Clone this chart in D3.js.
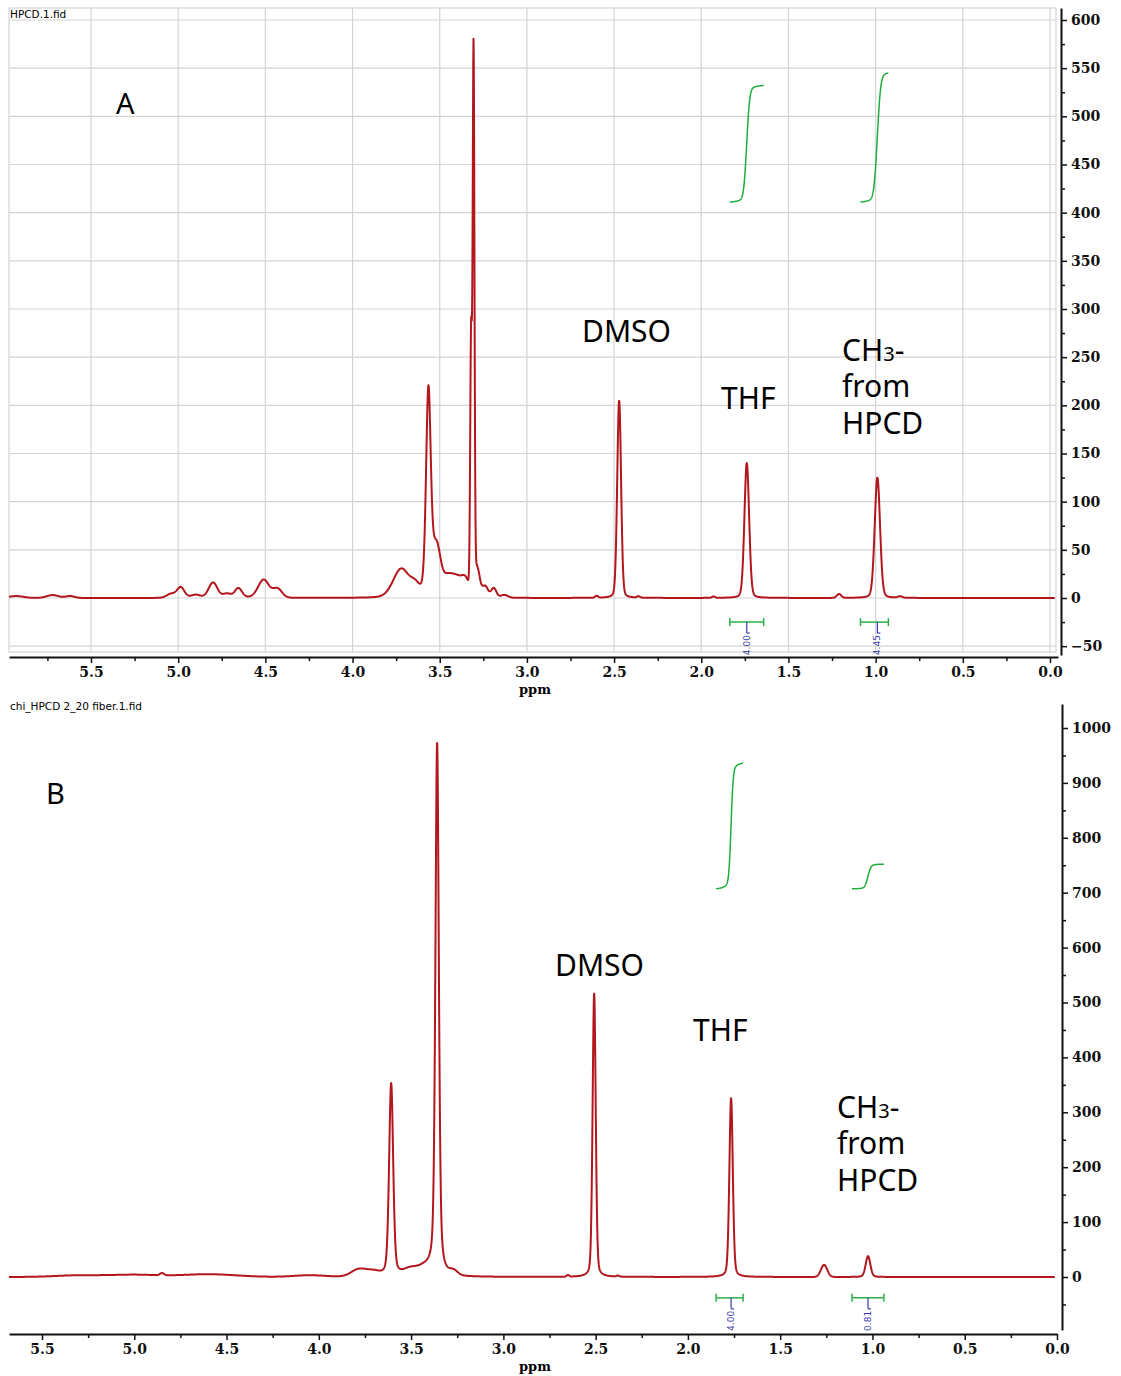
<!DOCTYPE html>
<html>
<head>
<meta charset="utf-8">
<script src="https://cdn.jsdelivr.net/npm/d3@7"></script>
<style>
  body { margin: 0; background: #fff; }
  .tick text { font-family: "DejaVu Serif", serif; font-weight: bold; font-size: 14px; fill: #111; }
</style>
</head>
<body>
<svg id="chart" width="1121" height="1376"></svg>
<script>
// Peak lists: [ppm, height, fwhm (ppm), lorentzian fraction]
const peaksA = [
  [5.93, 2, 0.10, 0], [5.72, 3, 0.08, 0], [5.62, 2, 0.06, 0],
  [5.04, 4, 0.06, 0], [4.985, 11, 0.05, 0.2], [4.90, 3, 0.06, 0],
  [4.80, 16, 0.06, 0.2], [4.72, 4, 0.05, 0], [4.655, 10, 0.05, 0.2],
  [4.51, 19, 0.075, 0.2], [4.43, 9, 0.06, 0],
  [3.72, 30, 0.11, 0.2], [3.64, 9, 0.06, 0], [3.565, 212, 0.032, 0.3],
  [3.52, 50, 0.055, 0], [3.46, 18, 0.07, 0], [3.40, 20, 0.08, 0], [3.35, 14, 0.05, 0],
  [3.32, 260, 0.012, 0], [3.306, 562, 0.012, 0.1],
  [3.285, 28, 0.035, 0], [3.24, 12, 0.04, 0], [3.19, 10, 0.035, 0], [3.13, 3, 0.05, 0],
  [2.60, 2, 0.02, 0], [2.471, 205, 0.026, 0.15], [2.36, 1.5, 0.02, 0],
  [1.93, 1.5, 0.02, 0], [1.739, 140, 0.032, 0.15], [1.21, 4, 0.03, 0],
  [0.99, 125, 0.036, 0.15], [0.86, 1.5, 0.03, 0]
];
const peaksB = [
  [5.3, 3, 0.3, 0], [5.0, 4, 0.3, 0], [4.6, 5, 0.35, 0], [4.85, 4, 0.025, 0],
  [4.05, 3, 0.2, 0], [3.78, 14, 0.10, 0], [3.70, 8, 0.08, 0],
  [3.608, 352, 0.026, 0.35], [3.50, 14, 0.10, 0], [3.42, 13, 0.08, 0],
  [3.359, 972, 0.022, 0.45], [3.27, 8, 0.05, 0],
  [2.65, 3, 0.015, 0], [2.508, 517, 0.02, 0.25], [2.38, 2, 0.015, 0],
  [1.766, 326, 0.022, 0.25], [1.262, 22, 0.04, 0], [1.024, 38, 0.03, 0.2]
];

// Integrals: [from ppm, to ppm, curve start, curve end, peak ppm, label]
const integralsA = [
  [1.836, 1.642, 411, 532, 1.739, "4.00"],
  [1.087, 0.927, 411, 545, 0.99, "4.45"]
];
const integralsB = [
  [1.847, 1.701, 707, 936, 1.766, "4.00"],
  [1.111, 0.938, 707, 752, 1.024, "0.81"]
];

const ppmMajor = [5.5, 5.0, 4.5, 4.0, 3.5, 3.0, 2.5, 2.0, 1.5, 1.0, 0.5, 0.0];
const ppmMinor = [5.75, 5.25, 4.75, 4.25, 3.75, 3.25, 2.75, 2.25, 1.75, 1.25, 0.75, 0.25];
const yMajorA = d3.range(-50, 601, 50);
const yMinorA = d3.range(-25, 600, 50);
const yMajorB = d3.range(0, 1001, 100);
const yMinorB = d3.range(-50, 1000, 100);

const svg = d3.select('#chart');

function spectrum(peaks, p) {
  let s = 0;
  for (const [c, h, w, eta] of peaks) {
    const d = (p - c) / w;
    const g = Math.exp(-4 * Math.LN2 * d * d);
    const l = 1 / (1 + 4 * d * d);
    s += h * (eta * l + (1 - eta) * g);
  }
  return s;
}

function drawPanel(cfg) {
  const x = d3.scaleLinear().domain([5.5, 0]).range(cfg.xRange);
  const y = d3.scaleLinear().domain(cfg.yDomain).range(cfg.yRange);
  const g = svg.append('g');

  // grid (panel A only)
  if (cfg.grid) {
    const grid = g.append('g').attr('stroke', '#d4d4d4').attr('stroke-width', 1.2);
    ppmMajor.forEach(p => grid.append('line')
      .attr('x1', x(p)).attr('x2', x(p)).attr('y1', cfg.plotTop).attr('y2', cfg.plotBottom));
    cfg.yMajor.forEach(v => grid.append('line')
      .attr('x1', cfg.plotLeft).attr('x2', cfg.plotRight).attr('y1', y(v)).attr('y2', y(v)));
    grid.append('rect')
      .attr('x', cfg.plotLeft).attr('y', cfg.plotTop)
      .attr('width', cfg.plotRight - cfg.plotLeft).attr('height', cfg.plotBottom - cfg.plotTop)
      .attr('fill', 'none');
  }

  // spectrum
  const pts = d3.range(cfg.plotLeft, cfg.specRight, 0.25).map(px => {
    const p = x.invert(px);
    return [p, spectrum(cfg.peaks, p)];
  });
  g.append('path')
    .datum(pts)
    .attr('fill', 'none')
    .attr('stroke', '#b3161c')
    .attr('stroke-width', 2)
    .attr('stroke-linejoin', 'round')
    .attr('d', d3.line().x(d => x(d[0])).y(d => y(d[1])));

  // integrals
  cfg.integrals.forEach(([from, to, lo, hi, center, label]) => {
    const n = 200;
    const ps = d3.range(n + 1).map(i => from + (to - from) * i / n);
    let cum = 0;
    const cumVals = ps.map(p => (cum += spectrum(cfg.peaks, p)));
    const total = cumVals[n];
    const curve = ps.map((p, i) => [p, lo + (hi - lo) * cumVals[i] / total]);
    g.append('path')
      .datum(curve)
      .attr('fill', 'none')
      .attr('stroke', '#1fae3c')
      .attr('stroke-width', 1.5)
      .attr('d', d3.line().x(d => x(d[0])).y(d => y(d[1])));

    const by = y(cfg.bracketValue);
    const br = g.append('g').attr('stroke', '#2cb04a').attr('stroke-width', 1.5);
    br.append('line').attr('x1', x(from)).attr('x2', x(to)).attr('y1', by).attr('y2', by);
    br.append('line').attr('x1', x(from)).attr('x2', x(from)).attr('y1', by - 4).attr('y2', by + 4);
    br.append('line').attr('x1', x(to)).attr('x2', x(to)).attr('y1', by - 4).attr('y2', by + 4);
    g.append('line')
      .attr('x1', x(center)).attr('x2', x(center)).attr('y1', by).attr('y2', by + 11)
      .attr('stroke', '#3a3aa8').attr('stroke-width', 1.2);
    g.append('line')
      .attr('x1', x(center)).attr('x2', x(center) + 3).attr('y1', by + 11).attr('y2', by + 11)
      .attr('stroke', '#3a3aa8').attr('stroke-width', 1.2);
    g.append('text')
      .attr('transform', `translate(${x(center) + 3},${by + 13}) rotate(-90)`)
      .attr('text-anchor', 'end')
      .attr('font-family', 'DejaVu Sans, sans-serif')
      .attr('font-size', 9)
      .attr('fill', '#3a3aa8')
      .text(label);
  });

  // x axis
  const xAxisScale = x.copy().domain([x.invert(cfg.plotLeft), x.invert(cfg.xAxisRight)])
    .range([cfg.plotLeft, cfg.xAxisRight]);
  const xAxis = g.append('g').attr('transform', `translate(0,${cfg.xAxisY})`)
    .call(d3.axisBottom(xAxisScale).tickValues(ppmMajor).tickFormat(d3.format('.1f'))
      .tickSize(6).tickSizeOuter(0).tickPadding(4));
  xAxis.select('.domain').attr('stroke', '#111').attr('stroke-width', 2);
  xAxis.selectAll('.tick line').attr('stroke', '#111').attr('stroke-width', 1.5);
  g.append('g').attr('transform', `translate(0,${cfg.xAxisY})`)
    .call(d3.axisBottom(xAxisScale).tickValues(ppmMinor.filter(p => xAxisScale(p) > cfg.plotLeft + 2))
      .tickFormat('').tickSize(4).tickSizeOuter(0))
    .call(a => a.select('.domain').remove())
    .selectAll('.tick line').attr('stroke', '#111').attr('stroke-width', 1.5);
  g.append('text')
    .attr('x', 535).attr('y', cfg.xAxisY + 37)
    .attr('text-anchor', 'middle')
    .attr('font-family', 'DejaVu Serif, serif').attr('font-weight', 'bold').attr('font-size', 13)
    .text('ppm');

  // y axis (right)
  const yAxisScale = y.copy().domain([y.invert(cfg.yAxisBottom), y.invert(cfg.yAxisTop)])
    .range([cfg.yAxisBottom, cfg.yAxisTop]);
  const yAxis = g.append('g').attr('transform', `translate(${cfg.yAxisX},0)`)
    .call(d3.axisRight(yAxisScale).tickValues(cfg.yMajor).tickFormat(d3.format('d'))
      .tickSize(6).tickSizeOuter(0).tickPadding(4));
  yAxis.select('.domain').attr('stroke', '#111').attr('stroke-width', 2);
  yAxis.selectAll('.tick line').attr('stroke', '#111').attr('stroke-width', 1.5);
  g.append('g').attr('transform', `translate(${cfg.yAxisX},0)`)
    .call(d3.axisRight(yAxisScale).tickValues(cfg.yMinor).tickFormat('').tickSize(4).tickSizeOuter(0))
    .call(a => a.select('.domain').remove())
    .selectAll('.tick line').attr('stroke', '#111').attr('stroke-width', 1.5);

  // title
  g.append('text')
    .attr('x', 10).attr('y', cfg.titleY)
    .attr('font-family', 'DejaVu Sans, sans-serif').attr('font-size', 10.5)
    .text(cfg.title);

  // annotation labels
  const big = (tx, ty, str) => g.append('text')
    .attr('x', tx).attr('y', ty)
    .attr('font-family', 'Noto Sans, sans-serif').attr('font-size', 30)
    .text(str);
  big(cfg.letterPos[0], cfg.letterPos[1], cfg.letter).attr('font-size', 29);
  big(cfg.dmsoPos[0], cfg.dmsoPos[1], 'DMSO');
  big(cfg.thfPos[0], cfg.thfPos[1], 'THF');
  const ch = big(cfg.chPos[0], cfg.chPos[1], '');
  ch.append('tspan').text('CH');
  ch.append('tspan').attr('font-size', 20).text('3');
  ch.append('tspan').text('-');
  big(cfg.chPos[0], cfg.chPos[1] + 36, 'from');
  big(cfg.chPos[0], cfg.chPos[1] + 73, 'HPCD');
}

drawPanel({
  peaks: peaksA, integrals: integralsA, grid: true,
  xRange: [91, 1050], yDomain: [0, 600], yRange: [598, 20],
  plotLeft: 9, plotRight: 1056, plotTop: 8, plotBottom: 652, specRight: 1055,
  xAxisY: 657, xAxisRight: 1058, yAxisX: 1061, yAxisTop: 8, yAxisBottom: 655,
  yMajor: yMajorA, yMinor: yMinorA, bracketValue: -25,
  title: 'HPCD.1.fid', titleY: 18,
  letter: 'A', letterPos: [116, 114],
  dmsoPos: [582, 342], thfPos: [721, 409], chPos: [842, 361]
});

drawPanel({
  peaks: peaksB, integrals: integralsB, grid: false,
  xRange: [42, 1057], yDomain: [0, 1000], yRange: [1277, 728],
  plotLeft: 9, plotRight: 1057, plotTop: 705, plotBottom: 1333, specRight: 1055,
  xAxisY: 1334, xAxisRight: 1057, yAxisX: 1062, yAxisTop: 704, yAxisBottom: 1330,
  yMajor: yMajorB, yMinor: yMinorB, bracketValue: -38,
  title: 'chi_HPCD 2_20 fiber.1.fid', titleY: 710,
  letter: 'B', letterPos: [46, 804],
  dmsoPos: [555, 976], thfPos: [693, 1041], chPos: [837, 1118]
});
</script>
</body>
</html>
